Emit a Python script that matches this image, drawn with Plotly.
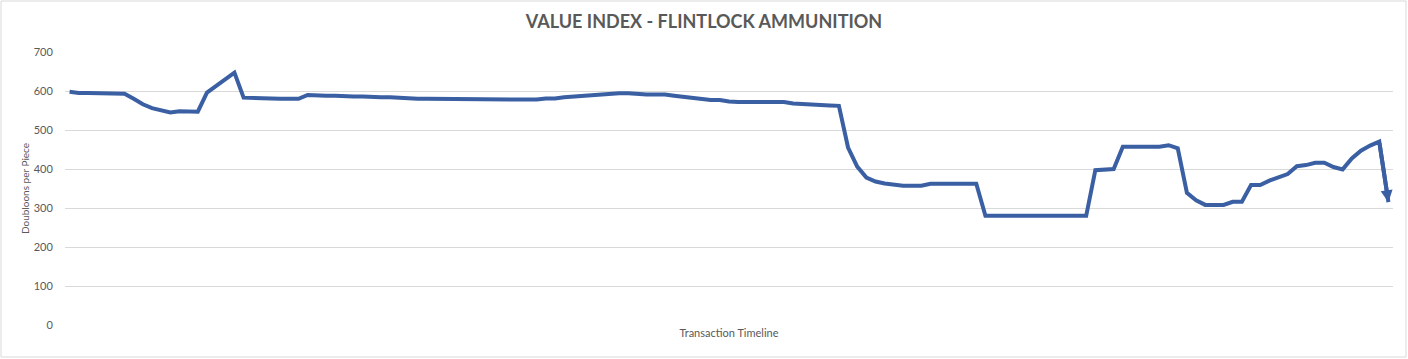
import plotly.graph_objects as go

title_text = "VALUE INDEX - FLINTLOCK AMMUNITION"
y_title = "Doubloons per Piece"
x_title = "Transaction Timeline"
y_ticks = [0, 100, 200, 300, 400, 500, 600, 700]

values = [
    598, 595, 595, 594, 593, 593, 593, 580, 566, 556,
    550, 545, 548, 548, 547, 596, 612, 630, 647, 583,
    583, 583, 581, 580, 580, 580, 590, 588, 588, 588,
    586, 586, 586, 584, 584, 584, 582, 580, 580, 580,
    580, 580, 580, 580, 580, 580, 580, 580, 578, 578,
    578, 578, 581, 581, 584, 586, 588, 590, 590, 592,
    594, 594, 592, 591, 591, 591, 588, 585, 583, 579,
    577, 577, 573, 572, 572, 572, 572, 572, 572, 568,
    566, 566, 564, 563, 562, 455, 406, 378, 368, 363,
    360, 357, 357, 357, 362, 362, 362, 362, 362, 362,
    280, 280, 280, 280, 280, 280, 280, 280, 280, 280,
    280, 280, 397, 398, 400, 457, 457, 457, 457, 457,
    461, 453, 339, 320, 308, 308, 308, 316, 316, 359,
    359, 370, 378, 387, 407, 410, 416, 416, 405, 399,
    427, 447, 460, 470, 315,
]
index = list(range(len(values)))

line_color = "#3A5FA3"
text_color = "#595959"
grid_color = "#D9D9D9"

fig = go.Figure()
fig.add_trace(go.Scatter(
    x=index, y=values, mode="lines",
    line=dict(color=line_color, width=4),
    hoverinfo="y", showlegend=False,
))

fig.add_annotation(
    x=index[-1], y=values[-1], ax=index[-2], ay=values[-2],
    xref="x", yref="y", axref="x", ayref="y",
    showarrow=True, arrowhead=2, arrowsize=0.6, arrowwidth=4,
    arrowcolor=line_color, text="",
)

W, H = 1408, 359
ml, mr, mt, mb = 65, 15, 52, 34
pw, ph = W - ml - mr, H - mt - mb
fig.add_shape(
    type="rect", xref="paper", yref="paper",
    x0=-(ml - 1) / pw, x1=1 + (mr - 2) / pw,
    y0=-(mb - 2) / ph, y1=1 + (mt - 1) / ph,
    line=dict(color="#D9D9D9", width=1), fillcolor="rgba(0,0,0,0)",
    layer="below",
)

fig.update_layout(
    width=W, height=H,
    margin=dict(l=ml, r=mr, t=mt, b=mb),
    paper_bgcolor="white", plot_bgcolor="white",
    font=dict(family="Lato, Open Sans, sans-serif", color=text_color),
    title=dict(
        text=f"<b>{title_text}</b>", x=0.5, xanchor="center",
        y=1 - 22 / H, yanchor="middle",
        font=dict(size=18, color=text_color),
    ),
    xaxis=dict(
        range=[-0.5, len(values) - 0.5],
        showticklabels=False, showgrid=False, zeroline=False,
        showline=False, ticks="",
        title=dict(text=x_title, font=dict(size=11, color=text_color), standoff=4),
    ),
    yaxis=dict(
        range=[0, 700], tickvals=y_ticks,
        showgrid=True, gridcolor=grid_color, gridwidth=1,
        zeroline=False, showline=False,
        ticks="outside", ticklen=9, tickcolor="rgba(0,0,0,0)",
        tickfont=dict(size=11, color=text_color),
        title=dict(text=y_title, font=dict(size=10, color=text_color), standoff=2),
    ),
)

fig.write_html(
    "out.html",
    config={"displayModeBar": False},
    post_script="document.body.style.margin='0';document.body.style.overflow='hidden';",
)
